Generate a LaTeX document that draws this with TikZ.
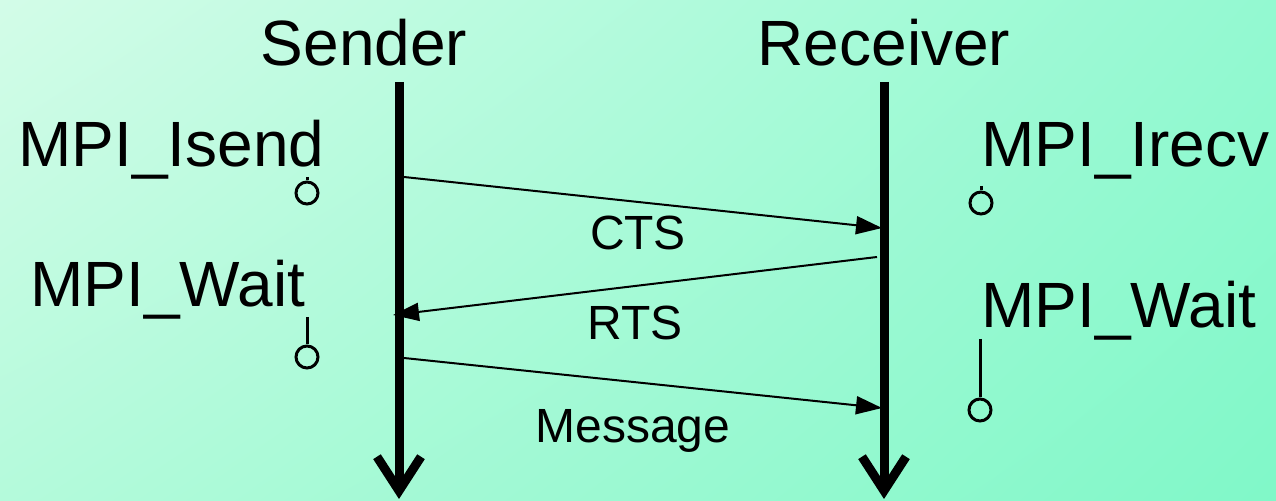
\documentclass[tikz,border=0pt]{standalone}
\usepackage{fontspec}
\setmainfont{Liberation Sans}
\usetikzlibrary{arrows.meta, shadings}
\definecolor{mintpale}{HTML}{D3FCE8}
\definecolor{mintmidA}{HTML}{93F9D1}
\definecolor{mintmidB}{HTML}{B4FADB}
\definecolor{mintdeep}{HTML}{80F8C8}

\begin{document}
\begin{tikzpicture}[x=0.5pt, y=-0.5pt,
  life/.style={line width=4.5pt, -{Straight Barb[length=17pt, width=22pt]}},
  msg/.style={line width=1pt, -{Triangle[length=13pt, width=9pt]}},
  actor/.style={font=\fontsize{32}{38}\selectfont, anchor=base, inner sep=0pt},
  call/.style={font=\fontsize{32}{38}\selectfont, anchor=base west, inner sep=0pt},
  msglabel/.style={font=\fontsize{24}{28}\selectfont, anchor=base, inner sep=0pt},
  done/.style={circle, draw, line width=1.5pt, minimum size=11pt, inner sep=0pt},
  stem/.style={line width=1.5pt},
]

% Background
\shade[upper left=mintpale, upper right=mintmidA, lower left=mintmidB,
  lower right=mintdeep] (0,0) rectangle (1276,501);
\useasboundingbox (0,0) rectangle (1276,501);

% =============================================
% Processes and their time lines
% =============================================
\node[actor] (sender) at (364,66) {Sender};
\node[actor] (receiver) at (884,66) {Receiver};

\coordinate (s-top) at (399,82);
\coordinate (s-end) at (399,499);
\coordinate (r-top) at (884,82);
\coordinate (r-end) at (884,499);

\draw[life] (s-top) -- (s-end);
\draw[life] (r-top) -- (r-end);

% =============================================
% Calls on the sender side
% =============================================
\node[call] (isend) at (18,167) {MPI\_Isend};
\coordinate (isend-go) at (307,177);
\node[done] (isend-done) at (307,193) {};
\draw[stem] (isend-go) -- (isend-done);

\node[call] (swait) at (30,307) {MPI\_Wait};
\coordinate (swait-go) at (307,317);
\node[done] (swait-done) at (307,357) {};
\draw[stem] (swait-go) -- (swait-done);

% =============================================
% Calls on the receiver side
% =============================================
\node[call] (irecv) at (981,167) {MPI\_Irecv};
\coordinate (irecv-go) at (981,186);
\node[done] (irecv-done) at (981,203) {};
\draw[stem] (irecv-go) -- (irecv-done);

\node[call] (rwait) at (981,328) {MPI\_Wait};
\coordinate (rwait-go) at (980,339);
\node[done] (rwait-done) at (980,410) {};
\draw[stem] (rwait-go) -- (rwait-done);

% =============================================
% Handshake and payload
% =============================================
\coordinate (cts-a) at (404,177);
\coordinate (cts-b) at (882,228);
\draw[msg] (cts-a) -- (cts-b);
\node[msglabel] (cts) at (638,250) {CTS};

\coordinate (rts-a) at (877,257);
\coordinate (rts-b) at (393,315);
\draw[msg] (rts-a) -- (rts-b);
\node[msglabel] (rts) at (635,340) {RTS};

\coordinate (data-a) at (404,358);
\coordinate (data-b) at (882,408);
\draw[msg] (data-a) -- (data-b);
\node[msglabel] (data) at (633,443) {Message};

\end{tikzpicture}
\end{document}
